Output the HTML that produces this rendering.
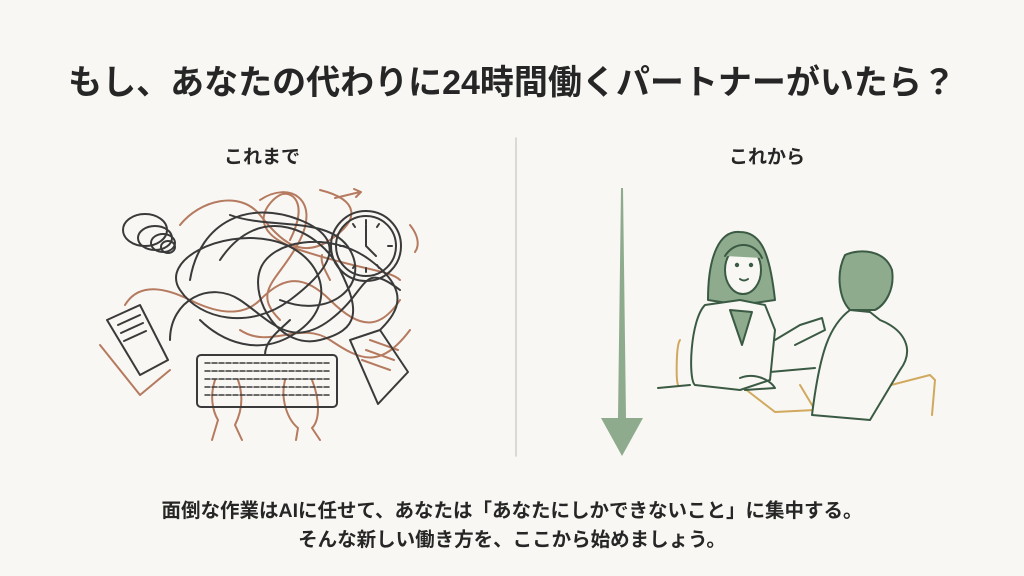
<!DOCTYPE html>
<html><head><meta charset="utf-8"><style>
html,body{margin:0;padding:0;background:#f8f7f3;}
body{width:1024px;height:576px;position:relative;overflow:hidden;font-family:"Liberation Sans","Noto Sans CJK JP",sans-serif;color:#262626;}
.t{position:absolute;left:0;width:1024px;text-align:center;font-weight:bold;white-space:nowrap;}
</style></head><body>
<div class="t" style="top:55px;font-size:34px;">もし、あなたの代わりに24時間働くパートナーがいたら？</div>
<div class="t" style="top:142px;font-size:19px;left:162px;width:200px;">これまで</div>
<div class="t" style="top:142px;font-size:19px;left:667px;width:200px;">これから</div>
<div class="t" style="top:494px;font-size:19.5px;">面倒な作業はAIに任せて、あなたは「あなたにしかできないこと」に集中する。</div>
<div class="t" style="top:523px;font-size:19.5px;">そんな新しい働き方を、ここから始めましょう。</div>
<svg width="1024" height="576" style="position:absolute;left:0;top:0" fill="none" stroke-linecap="round" stroke-linejoin="round">
<line x1="516" y1="138" x2="516" y2="456" stroke="#cfcfca" stroke-width="1.5"/>
<g stroke="#b57a5f" stroke-width="2">
<path d="M125 305 C140 280 170 290 190 300 S240 320 260 300 S300 270 330 300 S380 330 400 300"/>
<path d="M180 225 C200 200 240 190 260 215 S300 260 330 240 S360 200 320 190"/>
<path d="M240 330 C270 350 300 320 330 340 S380 370 410 330"/>
<path d="M260 200 C290 180 320 200 300 240 S250 290 280 320"/>
<path d="M290 240 C310 200 290 190 280 195 S240 230 300 250 S390 270 400 280"/>
<path d="M100 345 L140 395 L170 370"/>
<path d="M335 198 L360 192 M354 189 L361 192 L356 197"/>
<path d="M410 225 C418 235 420 245 415 252"/>
<path d="M330 280 C325 270 320 262 322 255"/>
<path d="M370 340 L398 350 M366 350 L394 360 M362 360 L390 370"/>
<path d="M215 380 C210 395 212 410 218 420 L212 440 M238 380 C245 400 240 415 235 425 L242 440"/>
<path d="M285 380 C280 400 288 420 298 428 L296 440 M312 380 C320 400 320 420 312 428 L320 440"/>
</g>
<g stroke="#3a3a3a" stroke-width="2">
<ellipse cx="145" cy="230" rx="22" ry="16"/><ellipse cx="155" cy="238" rx="17" ry="12"/><ellipse cx="163" cy="243" rx="12" ry="9"/><ellipse cx="168" cy="247" rx="7" ry="6"/>
<path d="M190 280 C200 220 250 200 300 220 S330 270 290 300 S200 320 180 290 S220 230 270 240 S340 300 300 330 S220 340 200 320"/>
<path d="M220 260 C260 200 320 230 340 270 S360 330 320 340 S250 300 260 270 S330 230 370 260 S400 310 380 330"/>
<path d="M170 340 C170 300 210 280 240 300 S290 350 330 320 S360 260 400 290"/>
<path d="M230 215 C270 230 330 215 350 250 S330 320 280 300"/>
<circle cx="366" cy="246" r="35"/><circle cx="366" cy="246" r="30"/>
<path d="M366 225 L366 246 L376 256"/>
<path d="M366 220 v4 M366 268 v4 M340 246 h4 M388 246 h4 M353 224 l2 3 M379 224 l-2 3 M353 268 l2 -3 M379 268 l-2 -3"/>
<path d="M107 320 L140 305 L168 360 L140 375 Z"/>
<path d="M118 325 L140 315 M121 333 L143 323 M124 341 L146 331"/>
<path d="M350 340 L380 330 L408 372 L378 404 Z"/>
<rect x="197" y="355" width="140" height="52" rx="4"/>
<path d="M205 363 H330 M205 371 H330 M205 379 H330 M205 387 H330 M205 395 H330" stroke-dasharray="5 2" stroke-width="1.5"/>
<path d="M265 355 C265 340 280 330 290 320"/>
</g>
<path d="M621 188 L623 188 L626 418 L643 418 L622 456 L601 418 L618 418 Z" fill="#8fab8d"/>
<g stroke="#d1a95e" stroke-width="2">
<path d="M680 340 C676 345 676 380 678 385"/>
<path d="M740 385 L775 412 L815 410 L800 385"/>
<path d="M860 393 L930 375 L935 380 L932 415"/>
</g>
<g stroke="#3b5a44" stroke-width="2">
<path d="M658 388 L690 385 M770 372 L815 368"/>
<path d="M740 232 C720 230 708 255 708 300 L740 305 L775 300 C770 255 762 232 740 232 Z" fill="#8fab8d"/>
<ellipse cx="743" cy="270" rx="18" ry="24" fill="#f8f7f3"/>
<path d="M725 256 C735 240 755 242 762 258" fill="#8fab8d"/>
<circle cx="737" cy="265" r="1.2" fill="#3b5a44"/><circle cx="751" cy="265" r="1.2" fill="#3b5a44"/>
<path d="M740 279 q4 3 8 0"/>
<path d="M705 305 C690 320 688 380 695 385 L740 390 L770 380 L775 330 L765 305 L740 300 Z" fill="#f8f7f3"/>
<path d="M730 310 L742 345 L752 312 Z" fill="#8fab8d"/>
<path d="M775 340 L800 325 L822 318 L825 330 L795 345"/>
<path d="M740 378 C755 372 770 380 775 388 L745 390"/>
<path d="M845 255 C860 248 885 250 892 270 C895 290 885 305 875 310 L850 310 C840 300 835 275 845 255 Z" fill="#8fab8d"/>
<path d="M850 310 C830 325 820 350 812 415 L870 420 L900 370 C915 350 905 330 880 320 L870 312 Z" fill="#f8f7f3"/>
</g>
</svg>
</body></html>
